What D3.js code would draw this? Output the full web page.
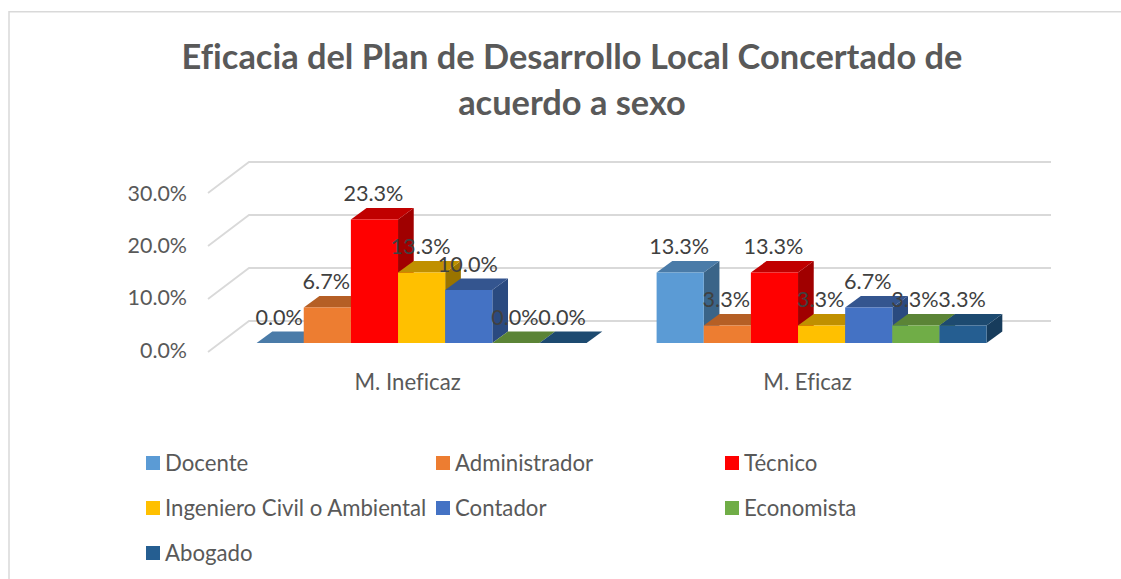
<!DOCTYPE html>
<html><head><meta charset="utf-8">
<script src="https://cdn.jsdelivr.net/npm/d3@7"></script>
<style>
html,body{margin:0;padding:0;background:#fff}
svg{display:block}
text{font-family:Lato,"Open Sans",sans-serif;font-variant-ligatures:none}
</style></head><body>
<svg id="c" width="1121" height="579"></svg>
<script>
const titleLines = ["Eficacia del Plan de Desarrollo Local Concertado de","acuerdo a sexo"];
const categories = ["M. Ineficaz","M. Eficaz"];
const seriesNames = ["Docente","Administrador","Técnico","Ingeniero Civil o Ambiental","Contador","Economista","Abogado"];
const ineficazValues = [0,6.7,23.3,13.3,10,0,0];
const eficazValues = [13.3,3.3,13.3,3.3,6.7,3.3,3.3];
const yTicks = [0,10,20,30];
const frontColors = ["#5b9bd5","#ed7d31","#ff0000","#ffc000","#4472c4","#70ad47","#255e91"];
const topColors   = ["#4a7ba8","#b55f25","#c00000","#c09000","#34558f","#5b8436","#1d4a70"];
const sideColors  = ["#3a6488","#8f4b1d","#a00000","#9a7400","#2a4a80","#4a6c2c","#173c5c"];

const svg = d3.select("#c");
const depth = {x:15.7, y:-11.5};

const y = d3.scaleLinear().domain([0,30]).range([343,184]);
const yLabel = d3.scaleLinear().domain([0,30]).range([357.5,201]);
const x0 = d3.scaleBand().domain(categories).range([221.6,1021.6]).paddingInner(70/400).paddingOuter(35/400);
const x1 = d3.scaleBand().domain(seriesNames).range([0,x0.bandwidth()]);

// chart frame: left and top edges only are visible in the crop
svg.append("path").attr("d","M9,579V11.7H1121").attr("fill","none").attr("stroke","#d9d9d9").attr("stroke-width",1.5);

// title
svg.append("g").selectAll("text").data(titleLines).join("text")
  .attr("x",572).attr("y",(d,i)=>69+i*45.5)
  .attr("text-anchor","middle").attr("font-size",34.4).attr("font-weight",700).attr("fill","#595959")
  .text(d=>d);

// gridlines: back wall plus side wall
const wallY = v => y(v)-22;
const grid = svg.append("g");
yTicks.forEach(t=>{
  const by = wallY(t);
  grid.append("path")
    .attr("d",`M1051,${by}H249L208,${by+31}`)
    .attr("fill","none").attr("stroke","#d9d9d9").attr("stroke-width",1.8);
});

// y tick labels
svg.append("g").selectAll("text").data(yTicks).join("text")
  .attr("x",187).attr("y",t=>yLabel(t))
  .attr("text-anchor","end").attr("font-size",21.4).attr("fill","#595959")
  .text(t=>t.toFixed(1)+"%");

// category labels
svg.append("g").selectAll("text").data(categories).join("text")
  .attr("x",c=>x0(c)+x0.bandwidth()/2-14).attr("y",389.5)
  .attr("text-anchor","middle").attr("font-size",22.2).attr("fill","#595959")
  .text(c=>c);

// bars
const rows = categories.map((c,i)=>({c,vals:i===0?ineficazValues:eficazValues}));
const bars = svg.append("g");
const labels = [];
rows.forEach(r=>{
  r.vals.forEach((v,i)=>{
    const name = seriesNames[i];
    const l = x0(r.c)+x1(name), w = x1.bandwidth(), t = y(v), b = y(0);
    const g = bars.append("g");
    g.append("path").attr("fill",sideColors[i])
      .attr("d",`M${l+w},${t}l${depth.x},${depth.y}V${b+depth.y}L${l+w},${b}Z`);
    g.append("path").attr("fill",topColors[i])
      .attr("d",`M${l},${t}l${depth.x},${depth.y}h${w}l${-depth.x},${-depth.y}Z`);
    if(v>0) g.append("rect").attr("x",l).attr("y",t).attr("width",w).attr("height",b-t).attr("fill",frontColors[i]);
    labels.push({x:l+w/2-1,y:t-18.5,t:v.toFixed(1)+"%"});
  });
});
svg.append("g").selectAll("text").data(labels).join("text")
  .attr("x",d=>d.x).attr("y",d=>d.y).attr("text-anchor","middle")
  .attr("font-size",21.6).attr("fill","#404040").text(d=>d.t);

// legend
const legendCols = [146,436,725], legendRows = [463,508,553];
const legend = svg.append("g").selectAll("g").data(seriesNames).join("g")
  .attr("transform",(d,i)=>`translate(${legendCols[i%3]},${legendRows[Math.floor(i/3)]})`);
legend.append("rect").attr("y",-7).attr("width",14).attr("height",14).attr("fill",(d,i)=>frontColors[i]);
legend.append("text").attr("x",19).attr("y",7.5).attr("font-size",22.2).attr("fill","#595959").text(d=>d);
</script>
</body></html>
